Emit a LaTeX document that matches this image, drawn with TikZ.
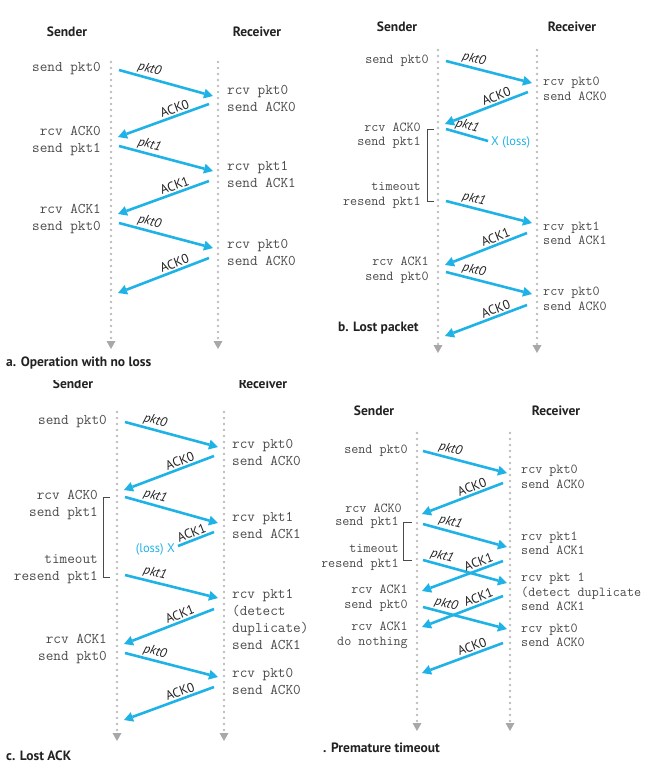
\documentclass[tikz,border=0pt]{standalone}
\usepackage{fontspec}
\setmainfont{PT Sans}
\usetikzlibrary{arrows.meta}
\definecolor{clrBlue} {HTML}{1FB2E6}
\definecolor{clrDot}  {HTML}{BDBDBD}
\definecolor{clrTip}  {HTML}{A8A8A8}
\definecolor{clrText} {HTML}{4A4A4A}
\definecolor{clrInk}  {HTML}{222222}

\begin{document}
\begin{tikzpicture}[x=1pt, y=-1pt,
  life/.style={clrDot, line width=2.8pt, line cap=round,
               dash pattern=on 0pt off 6pt,
               -{Triangle[length=8pt, width=9pt, color=clrTip, line width=0pt]}},
  msg/.style={clrBlue, line width=2.6pt,
              -{Triangle[length=9pt, width=10pt, line width=0pt]}},
  lost/.style={clrBlue, line width=2.6pt},
  hdr/.style={font=\fontsize{13.5}{16}\selectfont\bfseries, text=clrInk},
  title/.style={hdr, anchor=west, inner sep=0pt},
  evt/.style={font=\ttfamily\fontsize{14.8}{17}\selectfont, text=clrText,
              inner sep=0pt},
  evtS/.style={font=\ttfamily\fontsize{13.7}{14.5}\selectfont, text=clrText,
               inner sep=0pt},
  lft/.style={anchor=east, align=right},
  rgt/.style={anchor=west, align=left},
  tag/.style={font=\fontsize{13}{15}\selectfont, text=clrInk,
              sloped, above, inner sep=1.5pt},
  ptag/.style={tag, font=\fontsize{13}{15}\selectfont\itshape},
  loss/.style={font=\fontsize{12.5}{14}\selectfont, text=clrBlue, inner sep=0pt},
  brk/.style={clrText, line width=1pt},
]
\useasboundingbox (0,0) rectangle (645,764);

% a. Operation with no loss
\node[hdr] (aSnd) at (67,32) {Sender};
\node[hdr] (aRcv) at (257,32) {Receiver};
\coordinate (aSa) at (111,62);  \coordinate (aSz) at (111,349);
\coordinate (aRa) at (218,62);  \coordinate (aRz) at (218,349);
\draw[life] (aSa) -- (aSz);
\draw[life] (aRa) -- (aRz);
\node[evt, lft] (aL1) at (101,69) {send pkt0};
\node[evt, lft] (aL2) at (101,141.5) {rcv ACK0\\send pkt1};
\node[evt, lft] (aL3) at (101,219) {rcv ACK1\\send pkt0};
\node[evt, rgt] (aR1) at (227,98.5) {rcv pkt0\\send ACK0};
\node[evt, rgt] (aR2) at (227,174.5) {rcv pkt1\\send ACK1};
\node[evt, rgt] (aR3) at (227,252) {rcv pkt0\\send ACK0};
\coordinate (a1s) at (119,70);  \coordinate (a1e) at (213,96);
\coordinate (a2s) at (209,104); \coordinate (a2e) at (118,137);
\coordinate (a3s) at (119,146); \coordinate (a3e) at (213,171);
\coordinate (a4s) at (209,181); \coordinate (a4e) at (118,214);
\coordinate (a5s) at (119,223); \coordinate (a5e) at (213,248);
\coordinate (a6s) at (209,258); \coordinate (a6e) at (118,293);
\draw[msg] (a1s) -- node[ptag, pos=.3] {pkt0} (a1e);
\draw[msg] (a2s) -- node[tag, pos=.35] {ACK0} (a2e);
\draw[msg] (a3s) -- node[ptag, pos=.3] {pkt1} (a3e);
\draw[msg] (a4s) -- node[tag, pos=.35] {ACK1} (a4e);
\draw[msg] (a5s) -- node[ptag, pos=.3] {pkt0} (a5e);
\draw[msg] (a6s) -- node[tag, pos=.35] {ACK0} (a6e);
\node[title] (aCap) at (6,363) {a. Operation with no loss};

% b. Lost packet
\node[hdr] (bSnd) at (397,27) {Sender};
\node[hdr] (bRcv) at (572,27) {Receiver};
\coordinate (bSa) at (438,50);  \coordinate (bSz) at (438,353);
\coordinate (bRa) at (537,50);  \coordinate (bRz) at (537,353);
\draw[life] (bSa) -- (bSz);
\draw[life] (bRa) -- (bRz);
\node[evtS, lft] (bL1) at (429,61) {send pkt0};
\node[evtS, lft] (bL2) at (421,135.5) {rcv ACK0\\send pkt1};
\node[evtS, lft] (bL3) at (421,195.5) {timeout\\resend pkt1};
\node[evtS, lft] (bL4) at (429,270) {rcv ACK1\\send pkt0};
\node[evtS, rgt] (bR1) at (543,89) {rcv pkt0\\send ACK0};
\node[evtS, rgt] (bR2) at (543,233.5) {rcv pkt1\\send ACK1};
\node[evtS, rgt] (bR3) at (543,299) {rcv pkt0\\send ACK0};
\coordinate (bBa) at (434,129); \coordinate (bBz) at (434,201);
\draw[brk] (bBa) -- ++(-7,0) |- (bBz);
\coordinate (b1s) at (446,61);  \coordinate (b1e) at (532,83);
\coordinate (b2s) at (528,92);  \coordinate (b2e) at (445,124);
\coordinate (b3s) at (446,129); \coordinate (b3e) at (488,141);
\coordinate (b4s) at (446,201); \coordinate (b4e) at (532,223);
\coordinate (b5s) at (527,233); \coordinate (b5e) at (445,265);
\coordinate (b6s) at (446,272); \coordinate (b6e) at (532,294);
\coordinate (b7s) at (527,305); \coordinate (b7e) at (445,336);
\draw[msg] (b1s) -- node[ptag, pos=.3] {pkt0} (b1e);
\draw[msg] (b2s) -- node[tag, pos=.35] {ACK0} (b2e);
\draw[lost] (b3s) -- node[ptag, pos=.45] {pkt1} (b3e);
\node[loss, anchor=west] (bX) at (491,142) {X (loss)};
\draw[msg] (b4s) -- node[ptag, pos=.3] {pkt1} (b4e);
\draw[msg] (b5s) -- node[tag, pos=.35] {ACK1} (b5e);
\draw[msg] (b6s) -- node[ptag, pos=.3] {pkt0} (b6e);
\draw[msg] (b7s) -- node[tag, pos=.35] {ACK0} (b7e);
\node[title] (bCap) at (338,328) {b. Lost packet};

% c. Lost ACK
\begin{scope}
\clip (0,380) rectangle (322,764);
\node[hdr] (cSnd) at (73,384) {Sender};
\node[hdr] (cRcv) at (263,384) {Receiver};
\coordinate (cSa) at (117,412); \coordinate (cSz) at (117,741);
\coordinate (cRa) at (224,412); \coordinate (cRz) at (224,741);
\draw[life] (cSa) -- (cSz);
\draw[life] (cRa) -- (cRz);
\node[evt, lft] (cL1) at (107,422) {send pkt0};
\node[evt, lft] (cL2) at (98,505) {rcv ACK0\\send pkt1};
\node[evt, lft] (cL3) at (98,569) {timeout\\resend pkt1};
\node[evt, lft] (cL4) at (107,649.5) {rcv ACK1\\send pkt0};
\node[evt, rgt] (cR1) at (232,452.5) {rcv pkt0\\send ACK0};
\node[evt, rgt] (cR2) at (232,525) {rcv pkt1\\send ACK1};
\node[evt, rgt] (cR3) at (232,619.5) {rcv pkt1\\(detect\\duplicate)\\send ACK1};
\node[evt, rgt] (cR4) at (232,681) {rcv pkt0\\send ACK0};
\coordinate (cBa) at (110,497); \coordinate (cBz) at (110,577);
\draw[brk] (cBa) -- ++(-7,0) |- (cBz);
\coordinate (c1s) at (125,422); \coordinate (c1e) at (218,447);
\coordinate (c2s) at (214,456); \coordinate (c2e) at (124,490);
\coordinate (c3s) at (125,497); \coordinate (c3e) at (218,523);
\coordinate (c4s) at (214,532); \coordinate (c4e) at (178,546);
\coordinate (c5s) at (125,575); \coordinate (c5e) at (218,598);
\coordinate (c6s) at (214,609); \coordinate (c6e) at (124,644);
\coordinate (c7s) at (125,653); \coordinate (c7e) at (218,677);
\coordinate (c8s) at (214,687); \coordinate (c8e) at (124,720);
\draw[msg] (c1s) -- node[ptag, pos=.3] {pkt0} (c1e);
\draw[msg] (c2s) -- node[tag, pos=.35] {ACK0} (c2e);
\draw[msg] (c3s) -- node[ptag, pos=.3] {pkt1} (c3e);
\draw[lost] (c4s) -- node[tag, pos=.55] {ACK1} (c4e);
\node[loss, anchor=east] (cX) at (175,549) {(loss) X};
\draw[msg] (c5s) -- node[ptag, pos=.3] {pkt1} (c5e);
\draw[msg] (c6s) -- node[tag, pos=.35] {ACK1} (c6e);
\draw[msg] (c7s) -- node[ptag, pos=.3] {pkt0} (c7e);
\draw[msg] (c8s) -- node[tag, pos=.35] {ACK0} (c8e);
\node[title] (cCap) at (6,756) {c. Lost ACK};
\end{scope}

% d. Premature timeout
\begin{scope}
\clip (322,380) rectangle (645,764);
\node[hdr] (dSnd) at (374,411) {Sender};
\node[hdr] (dRcv) at (556,411) {Receiver};
\coordinate (dSa) at (417,433); \coordinate (dSz) at (417,731);
\coordinate (dRa) at (510,433); \coordinate (dRz) at (510,731);
\draw[life] (dSa) -- (dSz);
\draw[life] (dRa) -- (dRz);
\node[evtS, lft] (dL1) at (408,451) {send pkt0};
\node[evtS, lft] (dL2) at (402,508) {rcv ACK0};
\node[evtS, lft] (dL3) at (399,523) {send pkt1};
\node[evtS, lft] (dL4) at (399,557.5) {timeout\\resend pkt1};
\node[evtS, lft] (dL5) at (408,598) {rcv ACK1\\send pkt0};
\node[evtS, lft] (dL6) at (408,635.5) {rcv ACK1\\do nothing};
\node[evtS, rgt] (dR1) at (521,477) {rcv pkt0\\send ACK0};
\node[evtS, rgt] (dR2) at (521,543.5) {rcv pkt1\\send ACK1};
\node[evtS, rgt] (dR3) at (521,592) {rcv pkt 1\\(detect duplicate\\send ACK1};
\node[evtS, rgt] (dR4) at (521,635.5) {rcv pkt0\\send ACK0};
\coordinate (dBa) at (412,522); \coordinate (dBz) at (412,560);
\draw[brk] (dBa) -- ++(-9,0) |- (dBz);
\coordinate (d1s) at (423,451); \coordinate (d1e) at (507,473);
\coordinate (d2s) at (503,483); \coordinate (d2e) at (422,514);
\coordinate (d3s) at (423,524); \coordinate (d3e) at (507,547);
\coordinate (d4s) at (423,560); \coordinate (d4e) at (507,583);
\coordinate (d5s) at (503,561); \coordinate (d5e) at (422,591);
\coordinate (d6s) at (503,596); \coordinate (d6e) at (422,627);
\coordinate (d7s) at (423,607); \coordinate (d7e) at (507,629);
\coordinate (d8s) at (503,643); \coordinate (d8e) at (422,673);
\draw[msg] (d1s) -- node[ptag, pos=.3] {pkt0} (d1e);
\draw[msg] (d2s) -- node[tag, pos=.35] {ACK0} (d2e);
\draw[msg] (d3s) -- node[ptag, pos=.3] {pkt1} (d3e);
\draw[msg] (d4s) -- node[ptag, pos=.2] {pkt1} (d4e);
\draw[msg] (d5s) -- node[tag, pos=.27] {ACK1} (d5e);
\draw[msg] (d6s) -- node[tag, pos=.27] {ACK1} (d6e);
\draw[msg] (d7s) -- node[ptag, pos=.25] {pkt0} (d7e);
\draw[msg] (d8s) -- node[tag, pos=.35] {ACK0} (d8e);
\node[title] (dCap) at (323,748) {. Premature timeout};
\end{scope}
\end{tikzpicture}
\end{document}
